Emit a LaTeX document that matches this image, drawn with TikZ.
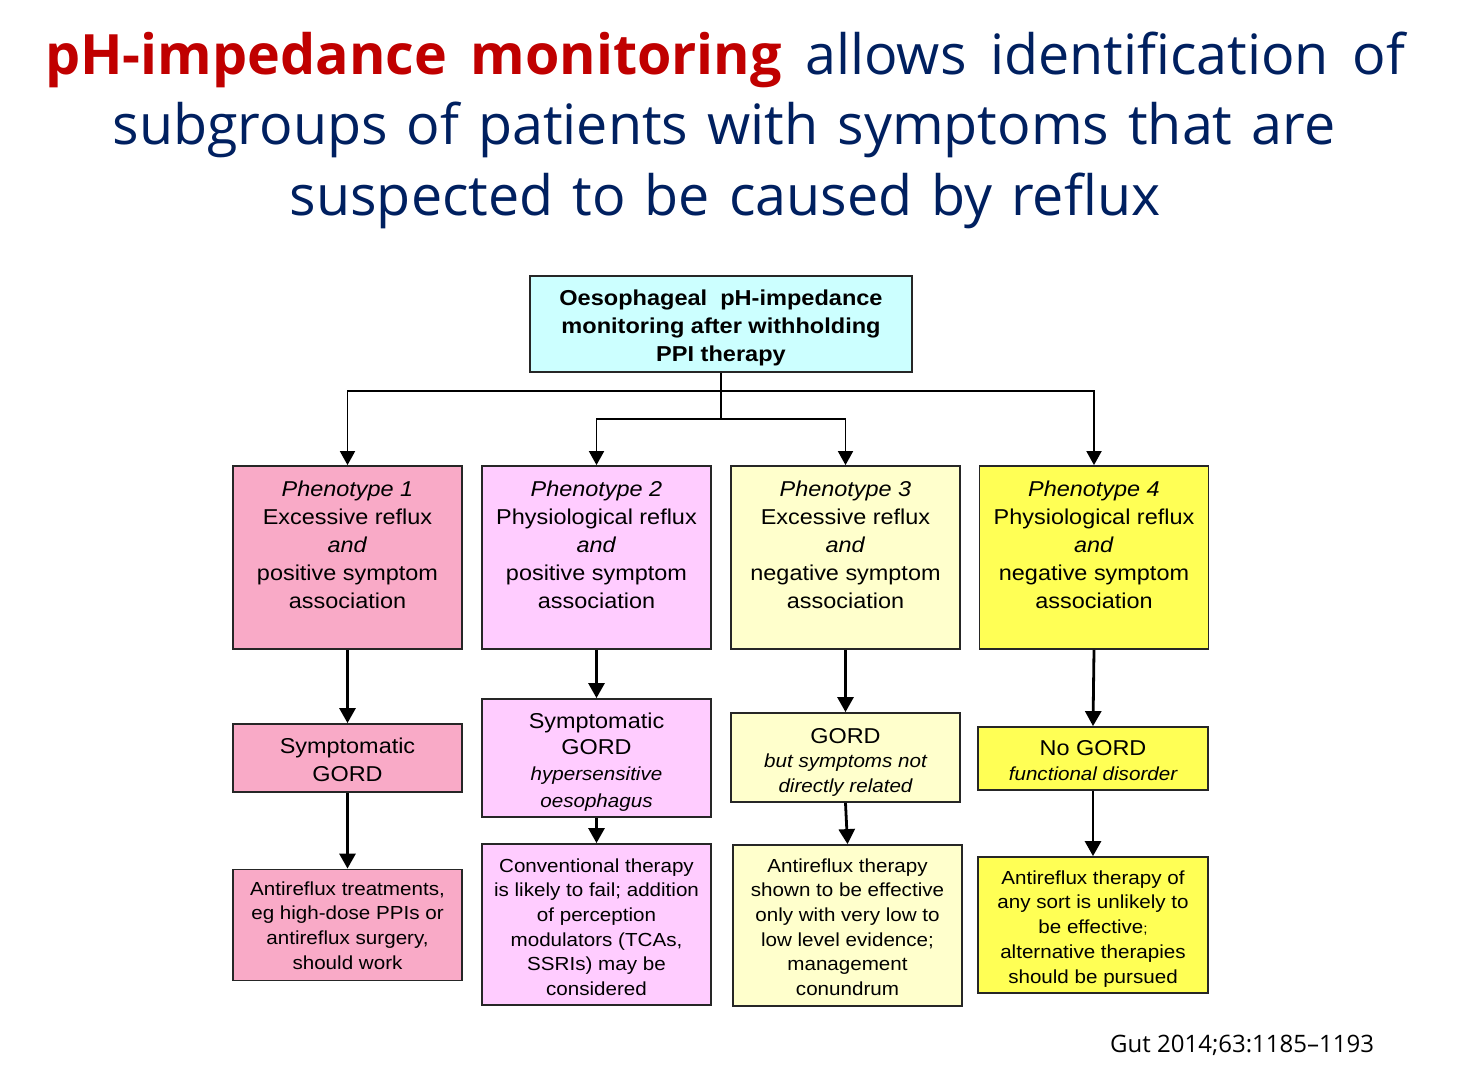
\documentclass[tikz,border=0pt]{standalone}
\usepackage{fontspec}
\setmainfont{Liberation Sans}
\newfontfamily\bxf[FakeStretch=1.09]{Liberation Sans}
\newfontfamily\ttlf{Open Sans}
\usetikzlibrary{arrows.meta}
\definecolor{cA}{RGB}{249,170,199}
\definecolor{cB}{RGB}{255,204,255}
\definecolor{cC}{RGB}{255,255,204}
\definecolor{cD}{RGB}{255,255,85}
\definecolor{cT}{RGB}{204,255,255}
\definecolor{tred}{RGB}{192,0,0}
\definecolor{tnavy}{RGB}{0,32,96}
\newcommand{\Ts}{\rule{0pt}{20pt}}
\newcommand{\smit}{\fontsize{18.9}{24.6}\selectfont\itshape}
\newcommand{\wsp}{\spaceskip=19pt plus 20pt\relax}
\begin{document}
\begin{tikzpicture}[x=1pt,y=-1pt,
 box/.style={draw=black!85, line width=1.8pt, inner sep=0pt},
 txt/.style={inner sep=0pt, align=center, anchor=north},
 ttl/.style={inner sep=0pt, anchor=base, text=tnavy, font=\ttlf\fontsize{55.6}{60}\selectfont},
 conn/.style={line width=1.8pt, -{Triangle[width=15pt,length=14pt]}},
 flow/.style={line width=2.8pt, -{Triangle[width=16pt,length=15pt]}}]
\useasboundingbox (0,0) rectangle (1459,1072);
\fill[white] (0,0) rectangle (1459,1072);

% title
\node[ttl] (tl1) at (725,74) {\wsp\hbox to 1360pt{\textcolor{tred}{\bfseries pH-impedance monitoring} allows identification of}};
\node[ttl] (tl2) at (724,144) {\wsp subgroups of patients with symptoms that are};
\node[ttl] (tl3) at (725,215) {\wsp suspected to be caused by reflux};

% boxes
\node[box, fill=cT, minimum width=382pt, minimum height=96pt] (top) at (721,324) {};
\node[txt, font=\bxf\bfseries\fontsize{21.6}{28}\selectfont] (topt) at (721,285) {\Ts Oesophageal\ \ pH-impedance\\monitoring after withholding\\PPI therapy};

\foreach \n/\cx/\c in {p1/347.5/cA, p2/596.5/cB, p3/845.5/cC, p4/1094/cD}
  \node[box, fill=\c, minimum width=229pt, minimum height=183pt] (\n) at (\cx,557.5) {};

\node[txt, font=\bxf\fontsize{21.5}{28}\selectfont] (p1t) at (347.5,476) {\Ts\textit{Phenotype 1}\\Excessive reflux\\\textit{and}\\positive symptom\\association};
\node[txt, font=\bxf\fontsize{21.5}{28}\selectfont] (p2t) at (596.5,476) {\Ts\textit{Phenotype 2}\\Physiological reflux\\\textit{and}\\positive symptom\\association};
\node[txt, font=\bxf\fontsize{21.5}{28}\selectfont] (p3t) at (845.5,476) {\Ts\textit{Phenotype 3}\\Excessive reflux\\\textit{and}\\negative symptom\\association};
\node[txt, font=\bxf\fontsize{21.5}{28}\selectfont] (p4t) at (1094,476) {\Ts\textit{Phenotype 4}\\Physiological reflux\\\textit{and}\\negative symptom\\association};

\node[box, fill=cA, minimum width=229pt, minimum height=68pt] (s1) at (347.5,758) {};
\node[box, fill=cB, minimum width=229pt, minimum height=118pt] (s2) at (596.5,758) {};
\node[box, fill=cC, minimum width=229pt, minimum height=89pt] (s3) at (845.5,757.5) {};
\node[box, fill=cD, minimum width=230pt, minimum height=63pt] (s4) at (1093,758.5) {};

\node[txt, font=\bxf\fontsize{21.5}{28.5}\selectfont] (s1t) at (347.5,733) {\Ts Symptomatic\\GORD};
\node[txt, font=\bxf\fontsize{21.5}{26.3}\selectfont] (s2t) at (596.5,708) {\Ts Symptomatic\\GORD\\{\smit hypersensitive}\\{\smit oesophagus}};
\node[txt, font=\bxf\fontsize{21.5}{24.5}\selectfont] (s3t) at (845.5,723) {\Ts GORD\\{\smit but symptoms not}\\{\smit directly related}};
\node[txt, font=\bxf\fontsize{21.5}{25}\selectfont] (s4t) at (1093,735) {\Ts No GORD\\{\smit functional disorder}};

\node[box, fill=cA, minimum width=229pt, minimum height=111pt] (t1) at (347.5,925) {};
\node[box, fill=cB, minimum width=229pt, minimum height=161pt] (t2) at (596.5,924.5) {};
\node[box, fill=cC, minimum width=229pt, minimum height=161pt] (t3) at (847.5,925.5) {};
\node[box, fill=cD, minimum width=230pt, minimum height=136pt] (t4) at (1093,925) {};

\node[txt, font=\bxf\fontsize{18.9}{24.7}\selectfont] (t1t) at (347.5,875) {\Ts Antireflux treatments,\\eg high-dose PPIs or\\antireflux surgery,\\should work};
\node[txt, font=\bxf\fontsize{18.9}{24.6}\selectfont] (t2t) at (596.5,852) {\Ts Conventional therapy\\is likely to fail; addition\\of perception\\modulators (TCAs,\\SSRIs) may be\\considered};
\node[txt, font=\bxf\fontsize{18.9}{24.6}\selectfont] (t3t) at (847.5,852) {\Ts Antireflux therapy\\shown to be effective\\only with very low to\\low level evidence;\\management\\conundrum};
\node[txt, font=\bxf\fontsize{18.9}{24.75}\selectfont] (t4t) at (1093,864) {\Ts Antireflux therapy of\\any sort is unlikely to\\be effective{\fontsize{14}{24.75}\selectfont;}\\alternative therapies\\should be pursued};

% connectors
\coordinate (j1) at (721,391);
\coordinate (j2) at (721,419);
\draw[line width=1.8pt] (top.south) -- (j2);
\draw[conn] (j1) -| (p1.north);
\draw[conn] (j1) -| (p4.north);
\draw[conn] (j2) -| (p2.north);
\draw[conn] (j2) -| (p3.north);

\foreach \a/\b in {p1/s1, p2/s2, p3/s3, p4/s4, s1/t1, s2/t2, s3/t3, s4/t4}
  \draw[flow] (\a.south) -- (\b.north);

% citation
\node[anchor=base west, inner sep=0pt, font=\ttlf\fontsize{24}{28}\selectfont] (cite) at (1110,1052) {Gut 2014;63:1185–1193};
\end{tikzpicture}
\end{document}
